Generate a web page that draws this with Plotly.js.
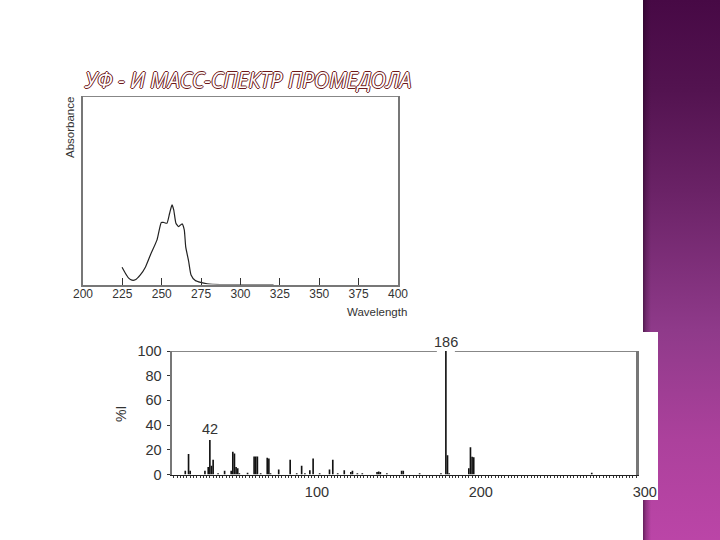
<!DOCTYPE html>
<html><head><meta charset="utf-8">
<script src="https://cdn.plot.ly/plotly-3.0.1.min.js"></script>
<style>
html,body{margin:0;padding:0;width:720px;height:540px;overflow:hidden;background:#fff}
#panel{position:absolute;left:643px;top:0;width:77px;height:540px;
background:linear-gradient(to right,rgba(30,0,30,.55) 0,rgba(30,0,30,.25) 3px,rgba(0,0,0,0) 8px),
linear-gradient(to bottom,#470945 0,#531350 90px,#6a2266 190px,#8f3a8a 330px,#ac419c 440px,#bb45a7 540px)}
#patch{position:absolute;left:500px;top:332px;width:158px;height:168px;background:#fff}
#chart{position:absolute;left:0;top:0;width:720px;height:540px}
</style></head><body>
<div id="panel"></div><div id="patch"></div><div id="chart"></div>
<script>
const titleText = 'УФ - И МАСС-СПЕКТР ПРОМЕДОЛА';
const uvWavelength = [224.8,226.9,229,231.1,233.2,236.4,239.6,242.8,247,249.7,251.2,253.3,255,256.5,257.6,259,260.7,262.9,264.3,265.2,267.1,268.6,271.3,274.7,278.7,287.2,321];
const uvAbsorbance = [9.2,6,3.4,2.3,2.5,5.1,9.2,15.7,23.7,32.9,32.9,32.5,37.8,42.2,39.6,32.5,30.7,32.2,29,20.1,12.2,5.1,2.1,1.1,0.4,0,0];
const uvTicks = [200,225,250,275,300,325,350,375,400];
const msMz = [27,29,30,39,41,42,43,44,47,51,55,56,57,58,59,60,65,69,70,71,73,77,78,79,84,91,95,98,100,103,105,109,115,117,120,124,128,129,132,135,144,145,146,150,159,160,170,183,186,187,188,200,201,202,203,275];
const msIntensity = [3,16.5,3,3,6,28,7,12,1,3,3,18.5,17,6,5,1,1.5,14.5,14.5,14.5,1,13.5,13,1,4,12,1,7,1,3.5,13,1,4,12,1,3.5,2,3,1,1,2,2.5,2,1,3,3,1,1,100,15.5,1,5,22,14.3,14,1.5];
const msXLabels = [100,200,300];
const msYTicks = [0,20,40,60,80,100];
const ink = '#333333', spine = '#777777';
const F = 'Liberation Sans, Arial, sans-serif';
const X1=[83,398],Y1=[96,284.5],X2=[172,636],Y2=[351,474.5];
const dx=p=>p.map(v=>v/720), dy=p=>[1-p[1]/540,1-p[0]/540];
const msTickPos=[]; for(let m=20;m<=302;m+=2) msTickPos.push(m);
const msTickText=msTickPos.map(m=>msXLabels.includes(m)?String(m):'');
const traces=[
 {type:'scatter',mode:'lines',x:uvWavelength,y:uvAbsorbance,xaxis:'x',yaxis:'y',
  line:{color:'#222',width:1.2,shape:'spline',smoothing:0.5},hoverinfo:'skip'},
 {type:'bar',x:msMz,y:msIntensity,xaxis:'x2',yaxis:'y2',width:1,
  marker:{color:'#111',line:{width:0}},hoverinfo:'skip'}
];
const shadow='1px 0 0 #6e1a1a,-1px 0 0 #6e1a1a,0 1px 0 #6e1a1a,0 -1px 0 #6e1a1a';
const layout={
 width:720,height:540,margin:{l:0,r:0,t:0,b:0},showlegend:false,
 paper_bgcolor:'rgba(0,0,0,0)',plot_bgcolor:'rgba(0,0,0,0)',font:{family:F,color:ink},
 xaxis:{domain:dx(X1),range:[200,400],anchor:'y',tickmode:'array',tickvals:uvTicks,ticks:'inside',ticklen:7,tickwidth:1,tickcolor:ink,
  showgrid:false,zeroline:false,showline:true,linecolor:spine,linewidth:2,tickfont:{size:12,color:ink},ticklabelstandoff:-3},
 yaxis:{domain:dy(Y1),range:[0,100],anchor:'x',showticklabels:false,ticks:'',showgrid:false,zeroline:false,showline:true,mirror:true,linecolor:spine,linewidth:2},
 xaxis2:{domain:dx(X2),range:[18.9,302],anchor:'y2',tickmode:'array',tickvals:msTickPos,ticktext:msTickText,ticks:'outside',ticklen:2,tickwidth:1,tickcolor:'#333',
  showgrid:false,zeroline:false,showline:true,linecolor:'#222',linewidth:1,tickfont:{size:14.5,color:ink},ticklabelshift:12,ticklabelstandoff:2},
 yaxis2:{domain:dy(Y2),range:[0,100],anchor:'x2',tickmode:'array',tickvals:msYTicks,ticks:'outside',ticklen:3,tickwidth:1,tickcolor:ink,
  showgrid:false,zeroline:false,showline:true,mirror:true,linecolor:spine,linewidth:2.5,tickfont:{size:14.5,color:ink},ticklabelstandoff:2},
 shapes:[
  {type:'line',xref:'x',yref:'y',x0:200,x1:400,y0:100,y1:100,line:{color:'#111',width:1.2}},
  {type:'line',xref:'x2',yref:'y2',x0:18.9,x1:180.5,y0:100,y1:100,line:{color:'#111',width:1.2}},
  {type:'line',xref:'x2',yref:'y2',x0:191.5,x1:302,y0:100,y1:100,line:{color:'#111',width:1.2}}
 ],
 annotations:[
  {xref:'paper',yref:'paper',x:247/720,y:1-80/540,text:titleText,showarrow:false,xanchor:'center',yanchor:'middle',
   font:{family:'Open Sans, sans-serif',size:21,style:'italic',color:'#ffffff',shadow:shadow}},
  {xref:'paper',yref:'paper',x:70/720,y:1-128/540,xanchor:'center',yanchor:'middle',text:'Absorbance',textangle:-90,showarrow:false,font:{size:11.5,color:ink}},
  {xref:'paper',yref:'paper',x:377/720,y:1-312/540,xanchor:'center',yanchor:'middle',text:'Wavelength',showarrow:false,font:{size:11.5,color:ink}},
  {xref:'paper',yref:'paper',x:121/720,y:1-414/540,xanchor:'center',yanchor:'middle',text:'%I',textangle:-90,showarrow:false,font:{size:14,color:ink}},
  {xref:'x2',yref:'y2',x:186,y:100,yshift:9,text:'186',showarrow:false,font:{size:14.5,color:ink}},
  {xref:'x2',yref:'y2',x:42,y:28,yshift:11,text:'42',showarrow:false,font:{size:14.5,color:ink}}
 ]
};
Plotly.newPlot('chart',traces,layout,{staticPlot:true,displayModeBar:false});
</script></body></html>
